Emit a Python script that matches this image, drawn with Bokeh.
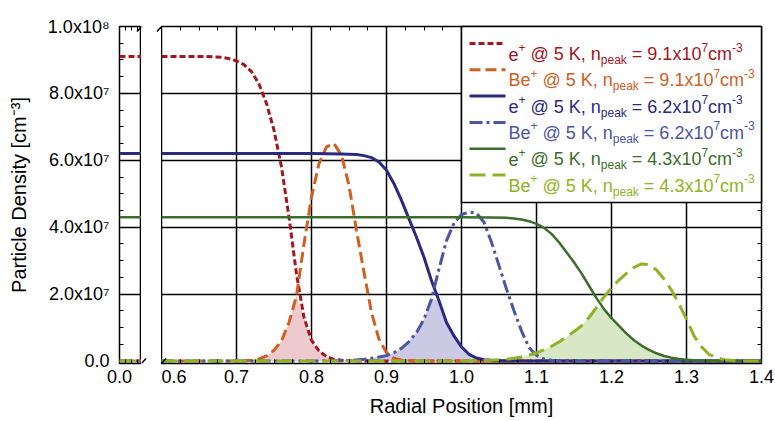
import math
from bokeh.plotting import figure
from bokeh.models import Range1d, LinearAxis, FixedTicker, Grid, Label, PrintfTickFormatter
from bokeh.layouts import row
from bokeh.embed import file_html
from bokeh.resources import INLINE

# ---------------- data (densities in units of 1e7 cm^-3) ----------------
scale = 1e7
r_core = [0.0, 0.01]

r1 = [0.60, 0.66, 0.68, 0.69, 0.70, 0.71, 0.72, 0.73, 0.74, 0.75, 0.76, 0.77, 0.78, 0.79, 0.80,
      0.81, 0.82, 0.83, 0.84, 0.85, 0.86, 0.87, 0.88, 0.89, 0.90, 0.91, 0.92, 0.93, 0.95, 1.40]
e1 = [9.10, 9.10, 9.08, 9.04, 8.97, 8.86, 8.65, 8.28, 7.70, 6.90, 5.80, 4.30, 2.60, 1.30, 0.62,
      0.30, 0.13, 0.05, 0.02, 0.01, 0, 0, 0, 0, 0, 0, 0, 0, 0, 0]
b1 = [0, 0, 0, 0, 0, 0.005, 0.02, 0.06, 0.15, 0.32, 0.60, 1.15, 1.95, 3.50, 4.90,
      5.90, 6.40, 6.50, 6.15, 5.25, 3.90, 2.65, 1.45, 0.65, 0.25, 0.08, 0.02, 0.01, 0, 0]

r2 = [0.60, 0.80, 0.84, 0.86, 0.87, 0.88, 0.89, 0.90, 0.91, 0.92, 0.93, 0.94, 0.95, 0.96, 0.97, 0.98,
      0.99, 1.00, 1.01, 1.02, 1.03, 1.04, 1.05, 1.06, 1.07, 1.08, 1.09, 1.10, 1.11, 1.12, 1.14, 1.40]
e2 = [6.20, 6.20, 6.19, 6.17, 6.14, 6.08, 5.95, 5.70, 5.30, 4.80, 4.25, 3.70, 3.10, 2.40, 1.80, 1.15,
      0.75, 0.42, 0.20, 0.09, 0.04, 0.02, 0.01, 0, 0, 0, 0, 0, 0, 0, 0, 0]
b2 = [0, 0, 0.01, 0.03, 0.05, 0.08, 0.12, 0.16, 0.25, 0.38, 0.58, 0.85, 1.25, 1.85, 2.75, 3.60,
      4.12, 4.38, 4.45, 4.42, 4.15, 3.55, 2.85, 2.15, 1.50, 0.90, 0.40, 0.17, 0.06, 0.02, 0, 0]

r3 = [0.60, 0.80, 1.00, 1.04, 1.06, 1.07, 1.08, 1.09, 1.10, 1.11, 1.12, 1.13, 1.14, 1.15, 1.16, 1.17,
      1.18, 1.19, 1.20, 1.21, 1.22, 1.23, 1.24, 1.25, 1.26, 1.27, 1.28, 1.29, 1.30, 1.31, 1.32, 1.33,
      1.34, 1.35, 1.36, 1.37, 1.38, 1.40]
e3 = [4.30, 4.30, 4.30, 4.29, 4.28, 4.26, 4.23, 4.18, 4.10, 3.98, 3.80, 3.55, 3.25, 2.95, 2.62, 2.25,
      1.88, 1.55, 1.28, 1.05, 0.82, 0.62, 0.46, 0.33, 0.23, 0.15, 0.10, 0.06, 0.04, 0.02, 0.01, 0.005,
      0, 0, 0, 0, 0, 0]
b3 = [0, 0, 0, 0.02, 0.05, 0.08, 0.12, 0.17, 0.24, 0.33, 0.44, 0.57, 0.72, 0.88, 1.05, 1.30,
      1.60, 1.92, 2.18, 2.42, 2.62, 2.80, 2.90, 2.88, 2.72, 2.45, 2.12, 1.70, 1.25, 0.75, 0.42, 0.20,
      0.10, 0.04, 0.02, 0.01, 0, 0]

species = ["e", "Be", "e", "Be", "e", "Be"]
temps = ["5", "5", "5", "5", "5", "5"]
n_peak = ["9.1", "9.1", "6.2", "6.2", "4.3", "4.3"]

x_ticks = [0.6, 0.7, 0.8, 0.9, 1.0, 1.1, 1.2, 1.3, 1.4]
y_ticks = [0.0, 2e7, 4e7, 6e7, 8e7, 1e8]
y_tick_labels = ["0.0", "2.0x10\u2077", "4.0x10\u2077", "6.0x10\u2077", "8.0x10\u2077", "1.0x10\u2078"]
x_label = "Radial Position [mm]"
y_label = "Particle Density [cm\u207b\u00b3]"

# ---------------- styling ----------------
FONT = "Liberation Sans"
colors = ["#a3161f", "#d0601f", "#2a2a80", "#4a55a6", "#3b6e2b", "#8fb324"]
dashes = ["6 3", "11 5", "solid", "13 4 3 4", "solid", "16 7"]
widths = [3, 3, 3, 3, 2.5, 3]
fills = ["#eccacd", "#cbc9e4", "#d8e7c6"]

y_min, y_max = -0.075e7, 1.0e8
xl = (0.0, 0.009)
xr = (0.6, 1.4)
H, T, B = 421, 26, 58
FH = H - T - B
LL, LFW = 119, 22
GW = 20
RFW, RR = 600, 14
ypp = (y_max - y_min) / FH
xpp_l = (xl[1] - xl[0]) / LFW
xpp_r = (xr[1] - xr[0]) / RFW

W = {' ': 278, '+': 584, ',': 278, '-': 333, '.': 278, '=': 584, '@': 1015, '[': 278, ']': 278,
     'B': 667, 'D': 722, 'K': 667, 'P': 667, 'R': 722,
     'a': 556, 'c': 500, 'd': 556, 'e': 556, 'i': 222, 'k': 500, 'l': 222, 'm': 833, 'n': 556,
     'o': 556, 'p': 556, 'r': 333, 's': 500, 't': 278, 'x': 500, 'y': 500}


def tw(s, size):
    return sum(W.get(c, 556) for c in s) * size / 1000.0


def put(p, x, y, text, size, color, align="left", level="annotation"):
    p.add_layout(Label(x=x, y=y, text=text, text_font=FONT, text_font_size=f"{size}px",
                       text_color=color, text_align=align, text_baseline="alphabetic", level=level))


def rich(p, x0, y0, parts, xpp, color, level="annotation"):
    pos = 0.0
    for txt, size, dy in parts:
        lead = len(txt) - len(txt.lstrip(' '))
        core = txt.strip(' ')
        start = pos + tw(' ' * lead, size)
        if core:
            put(p, x0 + start * xpp, y0 + dy * ypp, core, size, color, level=level)
        pos += tw(txt, size)
    return pos


def make_fig(xrange_, width, lb, rb):
    p = figure(width=width, height=H, x_range=Range1d(*xrange_), y_range=Range1d(y_min, y_max),
               min_border_left=lb, min_border_right=rb, min_border_top=T, min_border_bottom=B,
               output_backend="svg", toolbar_location=None,
               x_axis_location=None, y_axis_location=None)
    p.center = [c for c in p.center if not isinstance(c, Grid)]
    p.outline_line_color = "black"
    p.outline_line_width = 1.5
    p.background_fill_color = "white"
    p.border_fill_color = "white"
    return p


def add_axis(p, place, ticks, minor, labels=False, overrides=None):
    ax = LinearAxis(ticker=FixedTicker(ticks=ticks, minor_ticks=minor), axis_line_color=None,
                    major_tick_in=0, major_tick_out=0, minor_tick_in=4, minor_tick_out=0,
                    minor_tick_line_color="black", minor_tick_line_width=1)
    if labels:
        if overrides:
            ax.major_label_overrides = overrides
        else:
            ax.formatter = PrintfTickFormatter(format="%.1f")
        ax.major_label_text_font = FONT
        ax.major_label_text_font_size = "18px"
        ax.major_label_text_color = "black"
        ax.axis_label_text_font = FONT
        ax.axis_label_text_font_size = "20px"
        ax.axis_label_text_font_style = "normal"
        ax.axis_label_text_color = "black"
    else:
        ax.major_label_text_font_size = "0px"
        ax.major_label_text_color = None
        ax.major_label_standoff = 0
    p.add_layout(ax, place)
    return ax


def slashes(p, cx, xpp):
    for cy in (y_max, y_min):
        p.segment(x0=[cx - 4.5 * xpp], y0=[cy - 5 * ypp], x1=[cx + 4.5 * xpp], y1=[cy + 5 * ypp],
                  line_color="black", line_width=1.5)


y_minor = [v * 0.5e7 for v in range(21) if v % 4 != 0]
x_minor = [0.6 + 0.025 * i for i in range(33) if i % 4 != 0]
xl_minor = [0.0025, 0.005, 0.0075]

# ---------------- left (core) panel ----------------
pl = make_fig(xl, LL + LFW, LL, 0)
yax = add_axis(pl, "left", y_ticks, y_minor, labels=True,
               overrides={v: s for v, s in zip(y_ticks, y_tick_labels)})
yax.major_label_standoff = 10
yax.axis_label = y_label
yax.axis_label_standoff = 15
add_axis(pl, "above", [xl[0]], xl_minor)
bl = add_axis(pl, "below", [xl[0]], xl_minor, labels=True)
bl.major_label_standoff = 6
pl.add_layout(Grid(dimension=1, ticker=FixedTicker(ticks=y_ticks[1:-1]),
                   grid_line_color="black", grid_line_width=1.5))
core_vals = [e1[0], b1[0], e2[0], b2[0], e3[0], b3[0]]
for i, v in enumerate(core_vals):
    pl.line(r_core, [v * scale] * len(r_core), line_color=colors[i], line_width=widths[i],
            line_dash=dashes[i])
slashes(pl, xl[1], xpp_l)

# ---------------- gap between the panels (axis-break marks) ----------------
pg = make_fig((0, GW), GW, 0, 0)
pg.outline_line_color = None
slashes(pg, 0, 1)
slashes(pg, GW, 1)

# ---------------- right (main) panel ----------------
pr = make_fig(xr, RFW + RR, 0, RR)
bx = add_axis(pr, "below", x_ticks, x_minor, labels=True)
bx.major_label_standoff = 6
bx.axis_label = x_label
bx.axis_label_standoff = 9
add_axis(pr, "above", x_ticks, x_minor)
add_axis(pr, "right", y_ticks, y_minor)
pr.add_layout(Grid(dimension=1, ticker=FixedTicker(ticks=y_ticks[1:-1]),
                   grid_line_color="black", grid_line_width=1.5))
pr.add_layout(Grid(dimension=0, ticker=FixedTicker(ticks=x_ticks[1:-1]),
                   grid_line_color="black", grid_line_width=1.5))

pairs = [(r1, e1, b1), (r2, e2, b2), (r3, e3, b3)]
for k, (rr, ee, bb) in enumerate(pairs):
    overlap = [min(a, b) * scale for a, b in zip(ee, bb)]
    pr.varea(x=rr, y1=[0] * len(rr), y2=overlap, fill_color=fills[k], fill_alpha=1.0)
for k, (rr, ee, bb) in enumerate(pairs):
    for j, ser in enumerate((ee, bb)):
        i = 2 * k + j
        pr.line(rr, [v * scale for v in ser], line_color=colors[i], line_width=widths[i],
                line_dash=dashes[i])
slashes(pr, xr[0], xpp_r)

# legend
lg_left = xr[1] - 300 * xpp_r
lg_bottom = y_max - 176 * ypp
pr.quad(left=[lg_left], right=[xr[1]], top=[y_max], bottom=[lg_bottom], fill_color="white",
        line_color="black", line_width=1.5, level="overlay")
for i in range(6):
    cy = y_max - (17 + 26.3 * i) * ypp
    pr.line([lg_left + 8 * xpp_r, lg_left + 44 * xpp_r], [cy, cy], line_color=colors[i],
            line_width=widths[i], line_dash=dashes[i], level="overlay")
    parts = [(species[i], 18, 0), ("+", 12, 7), (" @ " + temps[i] + " K, n", 18, 0), ("peak", 12, -6),
             (" = " + n_peak[i] + "x10", 18, 0), ("7", 12, 7), ("cm", 18, 0), ("-3", 12, 7)]
    rich(pr, lg_left + 47 * xpp_r, cy - 10.5 * ypp, parts, xpp_r, colors[i], level="overlay")

layout = row(pl, pg, pr)
open("out.html", "w").write(file_html(layout, INLINE))
